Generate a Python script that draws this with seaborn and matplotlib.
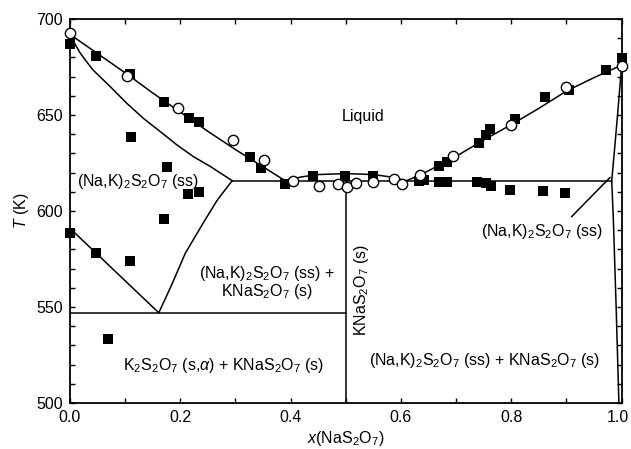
import numpy as np
import pandas as pd
import matplotlib
matplotlib.use('Agg')
import matplotlib.pyplot as plt
import seaborn as sns
from matplotlib.ticker import MultipleLocator

# Measured points: filled squares and open circles (x(NaS2O7), T in K)
sq_x = [0.0, 0.047, 0.109, 0.170, 0.215, 0.234, 0.326, 0.347, 0.390, 0.441,
        0.498, 0.550, 0.632, 0.641, 0.668, 0.684, 0.669, 0.683, 0.737, 0.755,
        0.763, 0.742, 0.755, 0.761, 0.807, 0.798, 0.861, 0.858, 0.905, 0.898,
        0.971, 1.0, 0.110, 0.175, 0.214, 0.234, 0.170, 0.0, 0.047, 0.109, 0.069]
sq_T = [687, 681, 671.4, 656.6, 648.4, 646.5, 628.3, 622.2, 613.9, 618.4,
        618.2, 618.4, 615.5, 616, 615, 615, 623.4, 625.7, 615, 614.4,
        613.2, 635.3, 639.6, 642.5, 647.8, 611, 659.2, 610.6, 663, 609.5,
        673.4, 679.5, 638.4, 623.1, 608.9, 610, 595.8, 588.4, 578.3, 574, 533.3]

ci_x = [0.0, 0.103, 0.196, 0.296, 0.352, 0.405, 0.452, 0.486, 0.503, 0.518,
        0.549, 0.588, 0.601, 0.634, 0.695, 0.799, 0.899, 1.0]
ci_T = [692.5, 670.3, 653.8, 637, 626.6, 615.6, 613.2, 613.9, 612.7, 614.4,
        615.3, 616.7, 613.9, 618.8, 628.6, 644.8, 664.8, 675.7]

# Phase boundaries
liq_left_x = [0.0, 0.05, 0.10, 0.15, 0.20, 0.25, 0.30, 0.35, 0.39]
liq_left_T = [692, 682, 672, 661.5, 651.5, 641.5, 632, 623, 615.8]

dome_x = [0.39, 0.42, 0.45, 0.50, 0.55, 0.58, 0.61]
dome_T = [615.8, 617.8, 619, 619.5, 619, 617.8, 615.8]

liq_right_x = [0.61, 0.64, 0.67, 0.70, 0.75, 0.80, 0.85, 0.90, 0.95, 1.0]
liq_right_T = [615.8, 619.5, 624, 628.5, 637, 645, 653.5, 662.5, 669.5, 676]

sol_left_x = [0.0, 0.008, 0.018, 0.030, 0.042, 0.073, 0.103, 0.133, 0.164, 0.194, 0.224, 0.255, 0.294]
sol_left_T = [692, 687.5, 682.5, 677.8, 673.4, 664.8, 656.1, 648.3, 641.3, 634.4, 628.3, 623.1, 615.8]

solv_left_x = [0.0, 0.161]
solv_left_T = [591, 547]

rise_x = [0.161, 0.185, 0.209, 0.242, 0.267, 0.294]
rise_T = [547, 562, 578, 594, 605.7, 615.8]

eut_hi_x = [0.294, 0.982]
eut_hi_T = [615.8, 615.8]

eut_lo_x = [0.0, 0.5]
eut_lo_T = [547, 547]

comp_x = [0.5, 0.5]
comp_T = [500, 619.5]

ss_right_x = [1.0, 0.994, 0.988, 0.982, 0.985, 0.990, 0.995]
ss_right_T = [676, 655, 635, 615.8, 595, 550, 500]

pointer_x = [0.909, 0.979]
pointer_T = [597, 617.5]

x_ticks = [0.0, 0.2, 0.4, 0.6, 0.8, 1.0]
x_ticklabels = ['0.0', '0.2', '0.4', '0.6', '0.8', '1.0']

sns.set_theme(style='ticks')
plt.rcParams['font.family'] = ['Liberation Sans', 'DejaVu Sans']
plt.rcParams['mathtext.fontset'] = 'custom'
plt.rcParams['mathtext.rm'] = 'Liberation Sans'
plt.rcParams['mathtext.it'] = 'Liberation Sans:italic'
plt.rcParams['font.size'] = 11.5
for key in ['text.color', 'axes.labelcolor', 'xtick.color', 'ytick.color', 'axes.edgecolor']:
    plt.rcParams[key] = 'black'

fig = plt.figure(figsize=(6.31, 4.49), dpi=100)
ax = fig.add_axes([0.1109, 0.1024, 0.8743, 0.8552])

curves = [(liq_left_x, liq_left_T), (dome_x, dome_T), (liq_right_x, liq_right_T),
          (sol_left_x, sol_left_T), (solv_left_x, solv_left_T), (rise_x, rise_T),
          (eut_hi_x, eut_hi_T), (eut_lo_x, eut_lo_T), (comp_x, comp_T),
          (ss_right_x, ss_right_T), (pointer_x, pointer_T)]
for cx, cT in curves:
    sns.lineplot(x=cx, y=cT, sort=False, estimator=None, color='black', lw=1.1, ax=ax)

sns.scatterplot(x=sq_x, y=sq_T, marker='s', s=44, color='black', edgecolor='black',
                linewidth=0, ax=ax, zorder=3, clip_on=False)
sns.scatterplot(x=ci_x, y=ci_T, marker='o', s=55, facecolor='white', edgecolor='black',
                linewidth=1.0, ax=ax, zorder=4, clip_on=False)

fs = 11.5
ax.text(0.532, 649, 'Liquid', ha='center', va='center', fontsize=fs)
ax.text(0.012, 615.5, r'(Na,K)$_2$S$_2$O$_7$ (ss)', ha='left', va='center', fontsize=fs)
ax.text(0.357, 567.5, r'(Na,K)$_2$S$_2$O$_7$ (ss) +', ha='center', va='center', fontsize=fs)
ax.text(0.357, 558, r'KNaS$_2$O$_7$ (s)', ha='center', va='center', fontsize=fs)
ax.text(0.278, 519.4, r'K$_2$S$_2$O$_7$ (s,$\alpha$) + KNaS$_2$O$_7$ (s)', ha='center', va='center', fontsize=fs)
ax.text(0.529, 558.9, r'KNaS$_2$O$_7$ (s)', ha='center', va='center', rotation=90, fontsize=fs)
ax.text(0.856, 589.2, r'(Na,K)$_2$S$_2$O$_7$ (ss)', ha='center', va='center', fontsize=fs)
ax.text(0.751, 522.4, r'(Na,K)$_2$S$_2$O$_7$ (ss) + KNaS$_2$O$_7$ (s)', ha='center', va='center', fontsize=fs)

ax.set_xlim(0, 1.0)
ax.set_ylim(500, 700)
# last label is drawn separately, nudged a little left so it fits the canvas
ax.set_xticks(x_ticks, x_ticklabels[:-1] + [''])
ax.xaxis.set_minor_locator(MultipleLocator(0.1))
ax.yaxis.set_major_locator(MultipleLocator(50))
ax.yaxis.set_minor_locator(MultipleLocator(10))
ax.tick_params(which='both', direction='in', top=True, right=True, length=3.5,
               width=1.0, color='black', labelsize=fs, pad=5)
for sp in ax.spines.values():
    sp.set_linewidth(1.3)
    sp.set_color('black')
ax.annotate(x_ticklabels[-1], xy=(x_ticks[-1], 0), xycoords=('data', 'axes fraction'),
            xytext=(-2.5, -5), textcoords='offset points', ha='center', va='top', fontsize=fs)

ax.set_xlabel(r'$\it{x}$(NaS$_2$O$_7$)', fontsize=fs, labelpad=3)
ax.set_ylabel(r'$\it{T}$ (K)', fontsize=fs, labelpad=4)

plt.savefig('out.png', dpi=100)
plt.close()
